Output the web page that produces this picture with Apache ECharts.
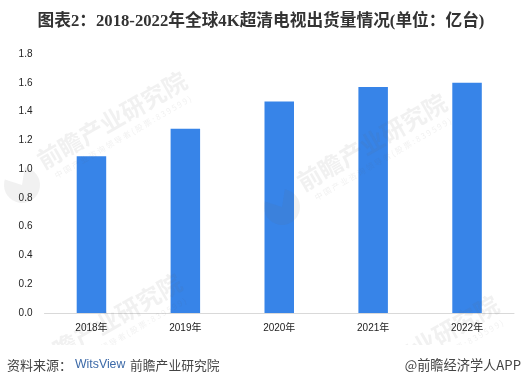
<!DOCTYPE html>
<html><head><meta charset="utf-8">
<style>html,body{margin:0;padding:0;background:#fff}#c{width:522px;height:385px}</style>
<script src="https://cdn.jsdelivr.net/npm/echarts@6/dist/echarts.min.js"></script>
</head><body><div id="c"></div>
<script>
const categories = ['2018年','2019年','2020年','2021年','2022年'];
const shipments = [1.09,1.28,1.47,1.57,1.6];
const titleText = '图表2：2018-2022年全球4K超清电视出货量情况(单位：亿台)';
const sourceLabel = '资料来源：';
const sourceBrand = 'WitsView';
const sourceRest = '前瞻产业研究院';
const creditText = '@前瞻经济学人APP';
const wmMain = '前瞻产业研究院';
const wmSub = '中 国 产 业 咨 询 领 导 者 ( 股 票 : 8 3 9 5 9 9 )';
const wmPlaces = [[112,120],[107,322],[372,142],[424,344]];
const cjk = '"Noto Sans CJK SC","Liberation Sans",sans-serif';
const latinFirst = '"Liberation Sans","Noto Sans CJK SC",sans-serif';
const wmFill = 'rgba(100,100,100,0.09)';
const tilt = Math.PI/6;
const chart = echarts.init(document.getElementById('c'),null,{renderer:'canvas'});
const wm = [];
wmPlaces.forEach(p=>{
  wm.push({type:'text',x:p[0],y:p[1],rotation:tilt,z:10,silent:true,
    style:{text:wmMain,fill:wmFill,font:'bold 24px '+cjk,align:'center',verticalAlign:'middle'}});
  wm.push({type:'text',x:p[0]+11,y:p[1]+17,rotation:tilt,z:10,silent:true,
    style:{text:wmSub,fill:wmFill,font:'8px '+cjk,align:'center',verticalAlign:'middle'}});
  wm.push({type:'sector',x:p[0]-90,y:p[1]+65,z:10,silent:true,
    shape:{cx:0,cy:0,r:18,r0:0,startAngle:-Math.PI*0.45,endAngle:Math.PI*1.1,clockwise:true},
    style:{fill:wmFill}});
});
chart.setOption({
  animation:false,
  backgroundColor:'#fff',
  title:{text:titleText,left:256,top:8,textAlign:'center',
    textStyle:{fontFamily:'"Liberation Serif","Noto Sans CJK SC",serif',fontWeight:'bold',fontSize:16.7,color:'#333'}},
  grid:{left:44.5,right:8,top:54,bottom:72,containLabel:false},
  xAxis:{type:'category',data:categories,
    axisLine:{lineStyle:{color:'#d9d9d9',width:1}},axisTick:{show:false},
    axisLabel:{color:'#222',fontSize:10,margin:10,fontFamily:latinFirst}},
  yAxis:{type:'value',min:0,max:1.8,interval:0.2,
    axisLine:{show:false},axisTick:{show:false},splitLine:{show:false},
    axisLabel:{color:'#222',fontSize:10,margin:12,fontFamily:latinFirst,formatter:v=>v.toFixed(1)}},
  series:[{type:'bar',data:shipments,barWidth:29.5,z:3,itemStyle:{color:'#3784e8'}}],
  graphic:[...wm,
    {type:'rect',shape:{x:0,y:345,width:522,height:40},z:11,silent:true,style:{fill:'#fff'}},
    {type:'text',x:7,y:365,z:12,style:{text:sourceLabel,fill:'#444',font:'13px '+cjk,verticalAlign:'middle'}},
    {type:'text',x:75,y:365,z:12,style:{text:sourceBrand,fill:'#3d6aa8',font:'12.3px '+latinFirst,verticalAlign:'middle'}},
    {type:'text',x:130,y:365,z:12,style:{text:sourceRest,fill:'#444',font:'12.8px '+cjk,verticalAlign:'middle'}},
    {type:'text',x:521,y:365,z:12,style:{text:creditText,fill:'#444',font:'13.2px '+cjk,align:'right',verticalAlign:'middle'}}
  ]
});
</script></body></html>
